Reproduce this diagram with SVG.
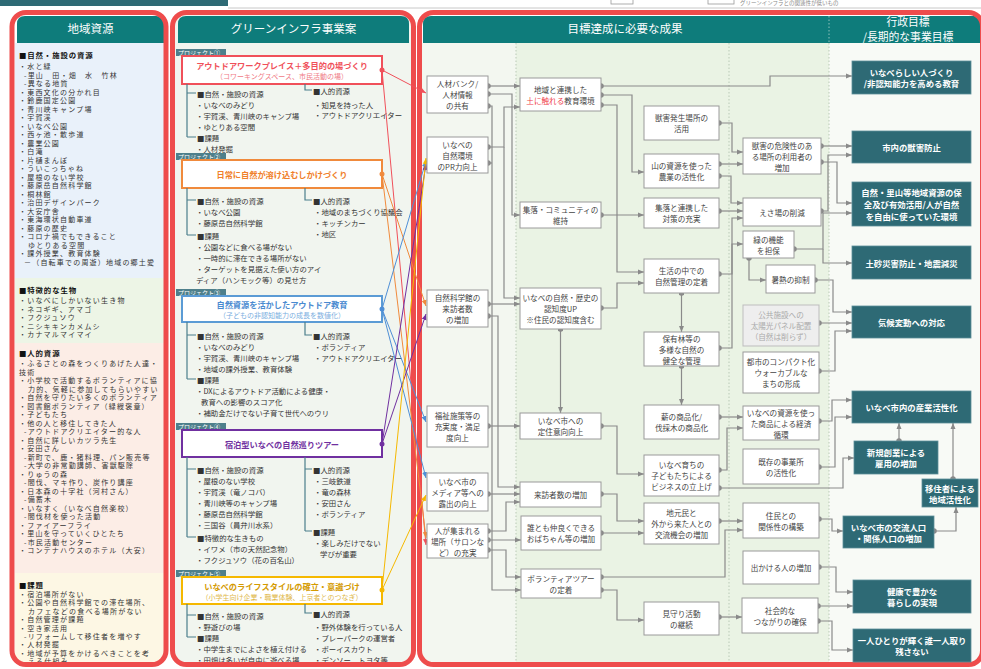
<svg xmlns="http://www.w3.org/2000/svg" width="981" height="669" viewBox="0 0 981 669">
<style>
text{font-family:"Noto Sans CJK JP","Noto Sans",sans-serif}
.frame{fill:none;stroke:#EE4C4C;stroke-width:5}
.hdr{fill:#0E7C7B}
.ht{font-size:11.5px;fill:#fff;text-anchor:middle;dominant-baseline:central}
.ht2{font-size:10.8px;fill:#fff;text-anchor:middle;dominant-baseline:central}
.lt{font-size:7px;letter-spacing:1.2px;fill:#333;dominant-baseline:central}
.lt .h{font-size:7.4px;letter-spacing:0.9px;fill:#111;font-weight:bold}
.mt{font-size:7.4px;fill:#333;dominant-baseline:central}
.tree{fill:none;stroke:#4B7F8B;stroke-width:1.2}
.tag{fill:#4E7F8B}
.tagt{font-size:6px;fill:#fff;dominant-baseline:central}
.pbox{fill:#fff;stroke-width:2}
.pt{font-size:8.2px;font-weight:bold;text-anchor:middle;dominant-baseline:central}
.ps{font-size:7px;text-anchor:middle;dominant-baseline:central}
.node rect{fill:#fff;stroke:#9a9a9a;stroke-width:1}
.node text{font-size:7.6px;fill:#444;text-anchor:middle;dominant-baseline:central}
.gray rect{fill:#eeeeee;stroke:#bdbdbd}
.gray text{fill:#aaa}
.goal rect{fill:#2E6A75;stroke:#5d8f99;stroke-width:0.8}
.goal text{font-size:8.4px;fill:#fff;font-weight:bold;text-anchor:middle;dominant-baseline:central}
.c{fill:none;stroke:#8a8a8a;stroke-width:1.2;marker-end:url(#ar);marker-start:url(#dt)}
.cn{fill:none;stroke:#8a8a8a;stroke-width:1.2;marker-end:url(#ar)}
.cd{fill:none;stroke:#8a8a8a;stroke-width:1.2;marker-start:url(#dt)}
.pl{fill:none;stroke-width:1}
.div{stroke:#b9c9b6;stroke-width:1;stroke-dasharray:1.5 2}
</style>
<defs>
<marker id="ar" viewBox="0 0 6 6" refX="6" refY="3" markerWidth="6" markerHeight="6" markerUnits="userSpaceOnUse" orient="auto"><path d="M0,0.5 L6,3 L0,5.5z" fill="#8a8a8a"/></marker>
<marker id="dt" viewBox="0 0 6 6" refX="3" refY="3" markerWidth="5.5" markerHeight="5.5" markerUnits="userSpaceOnUse"><circle cx="3" cy="3" r="3" fill="#8a8a8a"/></marker>
<marker id="arR" viewBox="0 0 6 6" refX="6" refY="3" markerWidth="6" markerHeight="6" markerUnits="userSpaceOnUse" orient="auto"><path d="M0,0.5 L6,3 L0,5.5z" fill="#F0505A"/></marker>
<marker id="arO" viewBox="0 0 6 6" refX="6" refY="3" markerWidth="6" markerHeight="6" markerUnits="userSpaceOnUse" orient="auto"><path d="M0,0.5 L6,3 L0,5.5z" fill="#F08A3C"/></marker>
<marker id="arB" viewBox="0 0 6 6" refX="6" refY="3" markerWidth="6" markerHeight="6" markerUnits="userSpaceOnUse" orient="auto"><path d="M0,0.5 L6,3 L0,5.5z" fill="#4F8FD6"/></marker>
<marker id="arP" viewBox="0 0 6 6" refX="6" refY="3" markerWidth="6" markerHeight="6" markerUnits="userSpaceOnUse" orient="auto"><path d="M0,0.5 L6,3 L0,5.5z" fill="#7030A0"/></marker>
<marker id="arY" viewBox="0 0 6 6" refX="6" refY="3" markerWidth="6" markerHeight="6" markerUnits="userSpaceOnUse" orient="auto"><path d="M0,0.5 L6,3 L0,5.5z" fill="#F5B800"/></marker>
<clipPath id="clL"><rect x="12" y="12.5" width="154" height="652" rx="14"/></clipPath>
<clipPath id="clM"><rect x="172.5" y="12.5" width="241" height="652" rx="14"/></clipPath>
<clipPath id="clR"><rect x="419.5" y="12.5" width="563" height="652" rx="14"/></clipPath>
</defs>
<rect width="981" height="669" fill="#fff"/>
<!-- top strip -->
<rect x="0" y="0" width="228" height="6" fill="#2E6A75"/>
<line x1="228" y1="8" x2="981" y2="8" stroke="#c8c8c8" stroke-width="1"/>
<rect x="611" y="-3" width="22" height="7" fill="#fff" stroke="#999" stroke-width="0.8"/>
<rect x="708" y="-3" width="26" height="7" fill="#fff" stroke="#999" stroke-width="0.8"/>
<text x="740" y="4.5" style="font-size:5.5px;fill:#888">グリーンインフラとの関連性が低いもの</text>

<!-- LEFT PANEL -->
<g id="panel-resources">
<g clip-path="url(#clL)">
<rect x="12" y="12" width="156" height="656" fill="#fff"/>
<rect x="15" y="43" width="150" height="235" fill="#E9F1FA"/>
<rect x="15" y="278" width="150" height="65" fill="#EDF5E6"/>
<rect x="15" y="343" width="150" height="230" fill="#FCEDE6"/>
<rect x="15" y="573" width="150" height="95" fill="#FDF7E4"/>
</g>
<path class="hdr" d="M17,43 V24 Q17,16 25,16 H156 Q164,16 164,24 V43 Z"/>
<text class="ht" x="90.5" y="28">地域資源</text>
<text class="lt" id="res-nature"><tspan class="h" x="19" y="54">■自然・施設の資源</tspan><tspan x="19" y="66">・水と緑</tspan><tspan x="24" y="74.5">-里山　田・畑　水　竹林</tspan><tspan x="24" y="83">-異なる地質</tspan><tspan x="19" y="91.5">・東西文化の分かれ目</tspan><tspan x="19" y="100">・鈴鹿国定公園</tspan><tspan x="19" y="108.5">・青川峡キャンプ場</tspan><tspan x="19" y="117">・宇賀渓</tspan><tspan x="19" y="125.5">・いなべ公園</tspan><tspan x="19" y="134">・西ヶ池・散歩道</tspan><tspan x="19" y="142.5">・農業公園</tspan><tspan x="19" y="151">・白滝</tspan><tspan x="19" y="159.5">・片樋まんぼ</tspan><tspan x="19" y="168">・ういこっちゃね</tspan><tspan x="19" y="176.5">・屋根のない学校</tspan><tspan x="19" y="185">・藤原岳自然科学館</tspan><tspan x="19" y="193.5">・桐林館</tspan><tspan x="19" y="202">・治田デザインパーク</tspan><tspan x="19" y="210.5">・大安庁舎</tspan><tspan x="19" y="219">・東海環状自動車道</tspan><tspan x="19" y="227.5">・藤原の歴史</tspan><tspan x="19" y="236">・コロナ禍でもできること</tspan><tspan x="28" y="244.5">ゆとりある空間</tspan><tspan x="19" y="253">・課外授業、教育体験</tspan><tspan x="24" y="261.5">－（自転車での周遊）地域の郷土愛</tspan></text>
<text class="lt" id="res-creatures"><tspan class="h" x="19" y="289">■特徴的な生物</tspan><tspan x="19" y="300">・いなべにしかいない生き物</tspan><tspan x="19" y="308.5">・ネコギギ、アマゴ</tspan><tspan x="19" y="317">・フクジュソウ</tspan><tspan x="19" y="325.5">・ニシキキンカメムシ</tspan><tspan x="19" y="334">・カナマルマイマイ</tspan></text>
<text class="lt" id="res-people"><tspan class="h" x="19" y="352">■人的資源</tspan><tspan x="19" y="363">・ふるさとの森をつくりあげた人達・</tspan><tspan x="19" y="371.5">技術</tspan><tspan x="19" y="380">・小学校で活動するボランティアに協</tspan><tspan x="28" y="388.5">力的、気軽に参加してもらいやすい</tspan><tspan x="19" y="397">・自然を守りたい多くのボランティア</tspan><tspan x="19" y="405.5">・図書館ボランティア（緑綬褒章）</tspan><tspan x="19" y="414">・子どもたち</tspan><tspan x="19" y="422.5">・他の人と移住してきた人</tspan><tspan x="24" y="431">-アウトドアクリエイター的な人</tspan><tspan x="19" y="439.5">・自然に詳しいカツラ先生</tspan><tspan x="19" y="448">・安田さん</tspan><tspan x="24" y="456.5">-新町で、鹿・猪料理、パン販売等</tspan><tspan x="24" y="465">-大学の非常勤講師、害獣駆除</tspan><tspan x="19" y="473.5">・りゅうの森</tspan><tspan x="24" y="482">-間伐、マキ作り、炭作り講座</tspan><tspan x="19" y="490.5">・日本森の十字社（河村さん）</tspan><tspan x="24" y="499">-備蓄木</tspan><tspan x="19" y="507.5">・いなすく（いなべ自然楽校）</tspan><tspan x="24" y="516">-間伐材を使った活動</tspan><tspan x="19" y="524.5">・ファイアーフライ</tspan><tspan x="19" y="533">・里山を守っていくひとたち</tspan><tspan x="24" y="541.5">-市民活動センター</tspan><tspan x="19" y="550">・コンテナハウスのホテル（大安）</tspan></text>
<text class="lt" id="res-issues"><tspan class="h" x="19" y="584">■課題</tspan><tspan x="19" y="594">・宿泊場所がない</tspan><tspan x="19" y="602.4">・公園や自然科学館での滞在場所、</tspan><tspan x="28" y="610.8">カフェなどの食べる場所がない</tspan><tspan x="19" y="619.2">・自然管理が課題</tspan><tspan x="19" y="627.6">・空き家活用</tspan><tspan x="24" y="636">-リフォームして移住者を増やす</tspan><tspan x="19" y="644.4">・人材発掘</tspan><tspan x="19" y="652.8">・地域が予算をかけるべきことを考</tspan><tspan x="28" y="661.2">える仕組み</tspan></text>
<rect class="frame" x="12" y="12.5" width="154" height="652" rx="14"/>
</g>

<!-- MIDDLE PANEL -->
<g id="panel-projects">
<g clip-path="url(#clM)"><rect x="172" y="12" width="242" height="656" fill="#F1F5EF"/></g>
<path class="hdr" d="M178,43 V24 Q178,16 186,16 H401 Q409,16 409,24 V43 Z"/>
<text class="ht" x="293.5" y="28">グリーンインフラ事業案</text>

<g id="project1">
<rect class="tag" x="176" y="49" width="50" height="7"/><text class="tagt" x="178" y="52.5">プロジェクト①</text>
<rect class="pbox" x="182" y="56" width="200" height="28" stroke="#F0505A"/>
<text class="pt" x="282" y="65" fill="#F0505A">アウトドアワークプレイス＋多目的の場づくり</text>
<text class="ps" x="282" y="76" fill="#F07A85">（コワーキングスペース、市民活動の場）</text>
<circle cx="382" cy="70" r="2.5" fill="#F0505A"/>
<path class="tree" d="M187,84 V137 M187,93 H196 M187,137 H196 M305,84 V90 H312"/>
<text class="mt" x="197" y="93">■自然・施設の資源</text>
<text class="mt" x="196" y="104">・いなべのみどり</text>
<text class="mt" x="196" y="115">・宇賀渓、青川峡のキャンプ場</text>
<text class="mt" x="196" y="126">・ゆとりある空間</text>
<text class="mt" x="197" y="137">■課題</text>
<text class="mt" x="196" y="148">・人材発掘</text>
<text class="mt" x="313" y="90">■人的資源</text>
<text class="mt" x="314" y="104">・知見を持った人</text>
<text class="mt" x="314" y="114.5">・アウトドアクリエイター</text>
</g>

<g id="project2">
<rect class="tag" x="176" y="153" width="50" height="7"/><text class="tagt" x="178" y="156.5">プロジェクト②</text>
<rect class="pbox" x="182" y="160" width="200" height="28" stroke="#F08A3C"/>
<text class="pt" x="282" y="174" fill="#F0802A">日常に自然が溶け込むしかけづくり</text>
<circle cx="382" cy="174" r="2.5" fill="#F08A3C"/>
<path class="tree" d="M187,188 V235 M187,200 H196 M187,235 H196 M305,188 V200 H312"/>
<text class="mt" x="197" y="200">■自然・施設の資源</text>
<text class="mt" x="196" y="211">・いなべ公園</text>
<text class="mt" x="196" y="222">・藤原岳自然科学館</text>
<text class="mt" x="197" y="235">■課題</text>
<text class="mt" x="196" y="246">・公園などに食べる場がない</text>
<text class="mt" x="196" y="257">・一時的に滞在できる場所がない</text>
<text class="mt" x="196" y="268">・ターゲットを見据えた使い方のアイ</text>
<text class="mt" x="196" y="279">ディア（ハンモック等）の見せ方</text>
<text class="mt" x="313" y="200">■人的資源</text>
<text class="mt" x="314" y="211">・地域のまちづくり協議会</text>
<text class="mt" x="314" y="222">・キッチンカー</text>
<text class="mt" x="314" y="233">・地区</text>
</g>

<g id="project3">
<rect class="tag" x="176" y="289" width="50" height="7"/><text class="tagt" x="178" y="292.5">プロジェクト③</text>
<rect class="pbox" x="182" y="296" width="200" height="26" stroke="#5B9BD5"/>
<text class="pt" x="282" y="303.5" fill="#4A8AD0">自然資源を活かしたアウトドア教育</text>
<text class="ps" x="282" y="315" fill="#7AAEE0">（子どもの非認知能力の成長を数値化）</text>
<circle cx="382" cy="309" r="2.5" fill="#4F8FD6"/>
<path class="tree" d="M187,322 V379 M187,335 H196 M187,379 H196 M305,322 V335 H312"/>
<text class="mt" x="197" y="335">■自然・施設の資源</text>
<text class="mt" x="196" y="346">・いなべのみどり</text>
<text class="mt" x="196" y="357">・宇賀渓、青川峡のキャンプ場</text>
<text class="mt" x="196" y="368">・地域の課外授業、教育体験</text>
<text class="mt" x="197" y="379">■課題</text>
<text class="mt" x="196" y="390">・DXによるアウトドア活動による健康・</text>
<text class="mt" x="201" y="401">教育への影響のスコア化</text>
<text class="mt" x="196" y="412">・補助金だけでない子育て世代へのウリ</text>
<text class="mt" x="313" y="335">■人的資源</text>
<text class="mt" x="314" y="346">・ボランティア</text>
<text class="mt" x="314" y="357">・アウトドアクリエイター</text>
</g>

<g id="project4">
<rect class="tag" x="176" y="423" width="50" height="7"/><text class="tagt" x="178" y="426.5">プロジェクト④</text>
<rect class="pbox" x="182" y="430" width="200" height="27" stroke="#7030A0"/>
<text class="pt" x="282" y="444" fill="#7030A0">宿泊型いなべの自然巡りツアー</text>
<circle cx="382" cy="444" r="2.5" fill="#7030A0"/>
<path class="tree" d="M187,457 V537 M187,469 H196 M187,537 H196 M305,457 V531 M305,469 H312 M305,531 H312"/>
<text class="mt" x="197" y="469">■自然・施設の資源</text>
<text class="mt" x="196" y="480">・屋根のない学校</text>
<text class="mt" x="196" y="491">・宇賀渓（竜ノコバ）</text>
<text class="mt" x="196" y="502">・青川峡等のキャンプ場</text>
<text class="mt" x="196" y="513">・藤原岳自然科学館</text>
<text class="mt" x="196" y="524">・三国谷（員弁川水系）</text>
<text class="mt" x="197" y="537">■特徴的な生きもの</text>
<text class="mt" x="196" y="548">・イワメ（市の天然記念物）</text>
<text class="mt" x="196" y="559">・フクジュソウ（花の百名山）</text>
<text class="mt" x="313" y="469">■人的資源</text>
<text class="mt" x="314" y="480">・三岐鉄道</text>
<text class="mt" x="314" y="491">・竜の森林</text>
<text class="mt" x="314" y="502">・安田さん</text>
<text class="mt" x="314" y="513">・ボランティア</text>
<text class="mt" x="313" y="531">■課題</text>
<text class="mt" x="314" y="542">・楽しみだけでない</text>
<text class="mt" x="320" y="553">学びが重要</text>
</g>

<g id="project5">
<rect class="tag" x="176" y="570" width="50" height="7"/><text class="tagt" x="178" y="573.5">プロジェクト⑤</text>
<rect class="pbox" x="182" y="577" width="200" height="27" stroke="#F5B800"/>
<text class="pt" x="282" y="585.5" fill="#D49A00">いなべのライフスタイルの確立・意識づけ</text>
<text class="ps" x="282" y="597" fill="#E0B84A">（小学生向け企業・職業体験、上京者とのつなぎ）</text>
<circle cx="382" cy="590" r="2.5" fill="#F5B800"/>
<path class="tree" d="M187,604 V637 M187,615 H196 M187,637 H196 M305,604 V613 H312"/>
<text class="mt" x="197" y="615">■自然・施設の資源</text>
<text class="mt" x="196" y="626">・野遊びの場</text>
<text class="mt" x="197" y="637">■課題</text>
<text class="mt" x="196" y="648">・中学生までによさを植え付ける</text>
<text class="mt" x="196" y="659">・田畑は多いが自由に遊べる場</text>
<text class="mt" x="313" y="613">■人的資源</text>
<text class="mt" x="314" y="626">・野外体験を行っている人</text>
<text class="mt" x="314" y="637">・プレーパークの運営者</text>
<text class="mt" x="314" y="648">・ボーイスカウト</text>
<text class="mt" x="314" y="659">・デンソー、トヨタ等</text>
</g>
<rect class="frame" x="172.5" y="12.5" width="241" height="652" rx="14"/>
</g>

<!-- RIGHT PANEL background -->
<g id="panel-outcomes">
<g clip-path="url(#clR)">
<rect x="419" y="12" width="565" height="656" fill="#fff"/>
<rect x="421" y="43" width="95" height="625" fill="#F3F7F0"/>
<rect x="516" y="43" width="313" height="625" fill="#EAF3E4"/>
<rect x="829" y="43" width="155" height="625" fill="#F8FAF6"/>
</g>
<path class="hdr" d="M423,43 V24 Q423,16 431,16 H981 V43 Z"/>
<text class="ht" x="625" y="28">目標達成に必要な成果</text>
<text class="ht2" x="908" y="20.5">行政目標</text>
<text class="ht2" x="908" y="35.5">/長期的な事業目標</text>
<line x1="829" y1="16" x2="829" y2="43" stroke="#8fc0bd" stroke-width="1" stroke-dasharray="1.5 2"/>
<line class="div" x1="516" y1="43" x2="516" y2="663"/>
<line class="div" x1="729" y1="43" x2="729" y2="663"/>
<line class="div" x1="829" y1="43" x2="829" y2="663"/>
<rect class="frame" x="419.5" y="12.5" width="563" height="652" rx="14"/>
</g>

<!-- CONNECTORS -->
<g id="connectors">
<path class="pl" stroke="#F0505A" marker-end="url(#arR)" d="M382,70 L426,93"/>
<path class="pl" stroke="#F0505A" marker-end="url(#arR)" d="M382,70 L426,545"/>
<path class="pl" stroke="#F08A3C" marker-end="url(#arO)" d="M382,174 L426,306"/>
<path class="pl" stroke="#F08A3C" marker-end="url(#arO)" d="M382,174 L426,538"/>
<path class="pl" stroke="#4F8FD6" marker-end="url(#arB)" d="M382,309 L426,161"/>
<path class="pl" stroke="#4F8FD6" marker-end="url(#arB)" d="M382,309 L426,422"/>
<path class="pl" stroke="#4F8FD6" marker-end="url(#arB)" d="M382,309 L426,478"/>
<path class="pl" stroke="#7030A0" marker-end="url(#arP)" d="M382,444 L426,164"/>
<path class="pl" stroke="#7030A0" marker-end="url(#arP)" d="M382,444 L426,314"/>
<path class="pl" stroke="#F5B800" marker-end="url(#arY)" d="M382,590 L426,158"/>
<path class="pl" stroke="#F5B800" marker-end="url(#arY)" d="M382,590 L426,495"/>

<path class="c" d="M488,86 H520"/>
<path class="c" d="M488,94 H512 V215 H520"/>
<path class="c" d="M488,106 H492 V590 H521"/>
<path class="c" d="M488,147 H504 V107 H520"/>
<path class="cn" d="M504,147 V298 H520"/>
<path class="cd" d="M488,163 H492"/>
<path class="c" d="M488,304 H520"/>
<path class="c" d="M488,316 H498 V487 H520"/>
<path class="c" d="M488,426 H520"/>
<path class="c" d="M488,494 H520"/>
<path class="c" d="M488,531 H506 V502 H520"/>
<path class="c" d="M488,540 H521"/>
<path class="c" d="M488,550 H506 V577 H521"/>

<path class="c" d="M601,86 H770 V76 H852"/>
<path class="c" d="M601,95 H632 V172 H644"/>
<path class="c" d="M601,105 H617 V272 H644"/>
<path class="c" d="M601,215 H644"/>
<path class="c" d="M601,308 H617 V283 H644"/>
<path class="c" d="M560.5,329 V413"/>
<path class="c" d="M601,426 H617 V474 H644"/>
<path class="c" d="M601,494 H617 V521 H644"/>
<path class="c" d="M601,533 H644"/>
<path class="c" d="M601,577 H725 V530 H743"/>
<path class="c" d="M601,590 H617 V620 H644"/>

<path class="c" d="M719,123 H732 V152 H743"/>
<path class="c" d="M719,164 H743"/>
<path class="c" d="M719,176 H731 V203 H743"/>
<path class="c" d="M719,211 H743"/>
<path class="c" d="M719,274 H732 V218 H743"/>
<path class="c" d="M681.5,293 V332"/>
<path class="c" d="M719,348 H732 V244 H743"/>
<path class="c" d="M681.5,366 V405"/>
<path class="c" d="M719,417 H743"/>
<path class="c" d="M719,470 H727 V428 H743"/>
<path class="c" d="M719,488 H843 V458 H854"/>
<path class="c" d="M719,521 H743"/>
<path class="c" d="M719,617 H742"/>

<path class="c" d="M821,146 H852"/>
<path class="c" d="M821,162 H837 V203 H852"/>
<path class="c" d="M821,211 H828 V155 H852"/>
<path class="c" d="M794,249 H823 V213 H852"/>
<path class="cn" d="M823,249 V263 H852"/>
<path class="c" d="M749,258 V280 H766"/>
<path class="c" d="M815,280 H833 V312 H852"/>
<path class="c" d="M819,323 H852"/>
<path class="c" d="M819,371 H835 V331 H852"/>
<path class="c" d="M819,421 H832 V400 H852"/>
<path class="c" d="M819,467 H835 V417 H852"/>
<path class="c" d="M899,441 V423"/>
<path class="c" d="M953,479 V423"/>
<path class="c" d="M934,531 H956 V507"/>
<path class="c" d="M819,519 H832 V531 H843"/>
<path class="c" d="M819,567 H836 V592 H853"/>
<path class="c" d="M818,606 H853"/>
<path class="c" d="M818,621 H832 V650 H853"/>
</g>

<!-- NODES col A -->
<g id="A1" class="node"><rect x="427" y="76" width="61" height="37"/><text x="457.5" y="83.5">人材バンク/</text><text x="457.5" y="94.5">人材情報</text><text x="457.5" y="105.5">の共有</text></g>
<g id="A2" class="node"><rect x="427" y="137" width="61" height="36"/><text x="457.5" y="144">いなべの</text><text x="457.5" y="155">自然環境</text><text x="457.5" y="166">のPR力向上</text></g>
<g id="A3" class="node"><rect x="427" y="290" width="61" height="37"/><text x="457.5" y="297.5">自然科学館の</text><text x="457.5" y="308.5">来訪者数</text><text x="457.5" y="319.5">の増加</text></g>
<g id="A4" class="node"><rect x="427" y="406" width="61" height="41"/><text x="457.5" y="415.5">福祉施策等の</text><text x="457.5" y="426.5">充実度・満足</text><text x="457.5" y="437.5">度向上</text></g>
<g id="A5" class="node"><rect x="427" y="473" width="61" height="38"/><text x="457.5" y="481">いなべ市の</text><text x="457.5" y="492">メディア等への</text><text x="457.5" y="503">露出の向上</text></g>
<g id="A6" class="node"><rect x="427" y="524" width="61" height="34"/><text x="457.5" y="530">人が集まれる</text><text x="457.5" y="541">場所（サロンな</text><text x="457.5" y="552">ど）の充実</text></g>
<!-- col B -->
<g id="B1" class="node"><rect x="520" y="78" width="81" height="33"/><text x="560.5" y="89">地域と連携した</text><text x="560.5" y="100"><tspan fill="#F0404A">土に触れる</tspan>教育環境</text></g>
<g id="B2" class="node"><rect x="520" y="202" width="81" height="26"/><text x="560.5" y="209.5">集落・コミュニティの</text><text x="560.5" y="220.5">維持</text></g>
<g id="B3" class="node"><rect x="520" y="288" width="81" height="41"/><text x="560.5" y="297.5">いなべの自然・歴史の</text><text x="560.5" y="308.5">認知度UP</text><text x="560.5" y="319.5">※住民の認知度含む</text></g>
<g id="B4" class="node"><rect x="520" y="413" width="81" height="26"/><text x="560.5" y="420.5">いなべ市への</text><text x="560.5" y="431.5">定住意向向上</text></g>
<g id="B5" class="node"><rect x="520" y="482" width="81" height="25"/><text x="560.5" y="494.5">来訪者数の増加</text></g>
<g id="B6" class="node"><rect x="521" y="516" width="80" height="34"/><text x="561" y="527.5">誰とも仲良くできる</text><text x="561" y="538.5">おばちゃん等の増加</text></g>
<g id="B7" class="node"><rect x="521" y="569" width="80" height="29"/><text x="561" y="578">ボランティアツアー</text><text x="561" y="589">の定着</text></g>
<!-- col C -->
<g id="C1" class="node"><rect x="644" y="106" width="75" height="34"/><text x="681.5" y="117.5">獣害発生場所の</text><text x="681.5" y="128.5">活用</text></g>
<g id="C2" class="node"><rect x="644" y="154" width="75" height="34"/><text x="681.5" y="165.5">山の資源を使った</text><text x="681.5" y="176.5">農業の活性化</text></g>
<g id="C3" class="node"><rect x="644" y="198" width="75" height="30"/><text x="681.5" y="207.5">集落と連携した</text><text x="681.5" y="218.5">対策の充実</text></g>
<g id="C4" class="node"><rect x="644" y="259" width="75" height="34"/><text x="681.5" y="270.5">生活の中での</text><text x="681.5" y="281.5">自然管理の定着</text></g>
<g id="C5" class="node"><rect x="644" y="332" width="75" height="34"/><text x="681.5" y="338">保有林等の</text><text x="681.5" y="349">多様な自然の</text><text x="681.5" y="360">健全な管理</text></g>
<g id="C6" class="node"><rect x="644" y="405" width="75" height="34"/><text x="681.5" y="416.5">薪の商品化/</text><text x="681.5" y="427.5">伐採木の商品化</text></g>
<g id="C7" class="node"><rect x="644" y="455" width="75" height="41"/><text x="681.5" y="464.5">いなべ育ちの</text><text x="681.5" y="475.5">子どもたちによる</text><text x="681.5" y="486.5">ビジネスの立上げ</text></g>
<g id="C8" class="node"><rect x="644" y="503" width="75" height="41"/><text x="681.5" y="512.5">地元民と</text><text x="681.5" y="523.5">外から来た人との</text><text x="681.5" y="534.5">交流機会の増加</text></g>
<g id="C9" class="node"><rect x="644" y="602" width="75" height="33"/><text x="681.5" y="613">見守り活動</text><text x="681.5" y="624">の継続</text></g>
<!-- col D -->
<g id="D1" class="node"><rect x="743" y="138" width="78" height="36"/><text x="782" y="145">獣害の危険性のあ</text><text x="782" y="156">る場所の利用者の</text><text x="782" y="167">増加</text></g>
<g id="D2" class="node"><rect x="743" y="198" width="78" height="28"/><text x="782" y="212">えさ場の削減</text></g>
<g id="D3" class="node"><rect x="743" y="231" width="51" height="27"/><text x="768.5" y="239">緑の機能</text><text x="768.5" y="250">を担保</text></g>
<g id="D4" class="node"><rect x="766" y="265" width="49" height="28"/><text x="790.5" y="279">暑熱の抑制</text></g>
<g id="D5" class="node gray"><rect x="743" y="305" width="76" height="41"/><text x="781" y="314.5">公共施設への</text><text x="781" y="325.5">太陽光パネル配置</text><text x="781" y="336.5">（自然は削らず）</text></g>
<g id="D6" class="node"><rect x="743" y="352" width="76" height="41"/><text x="781" y="361.5">都市のコンパクト化</text><text x="781" y="372.5">ウォーカブルな</text><text x="781" y="383.5">まちの形成</text></g>
<g id="D7" class="node"><rect x="743" y="406" width="76" height="34"/><text x="781" y="412">いなべの資源を使っ</text><text x="781" y="423">た商品による経済</text><text x="781" y="434">循環</text></g>
<g id="D8" class="node"><rect x="743" y="449" width="76" height="35"/><text x="781" y="461">既存の事業所</text><text x="781" y="472">の活性化</text></g>
<g id="D9" class="node"><rect x="743" y="503" width="76" height="35"/><text x="781" y="515">住民との</text><text x="781" y="526">関係性の構築</text></g>
<g id="D10" class="node"><rect x="743" y="551" width="76" height="33"/><text x="781" y="567.5">出かける人の増加</text></g>
<g id="D11" class="node"><rect x="742" y="598" width="76" height="35"/><text x="780" y="610">社会的な</text><text x="780" y="621">つながりの確保</text></g>
<!-- goals -->
<g id="G1" class="goal"><rect x="852" y="61" width="119" height="33"/><text x="911.5" y="72">いなべらしい人づくり</text><text x="911.5" y="83">/非認知能力を高める教育</text></g>
<g id="G2" class="goal"><rect x="852" y="131" width="119" height="32"/><text x="911.5" y="147">市内の獣害防止</text></g>
<g id="G3" class="goal"><rect x="852" y="182" width="119" height="44"/><text x="911.5" y="192">自然・里山等地域資源の保</text><text x="911.5" y="204">全及び有効活用/人が自然</text><text x="911.5" y="216">を自由に使っていた環境</text></g>
<g id="G4" class="goal"><rect x="852" y="246" width="119" height="33"/><text x="911.5" y="262.5">土砂災害防止・地震減災</text></g>
<g id="G5" class="goal"><rect x="852" y="306" width="119" height="32"/><text x="911.5" y="322">気候変動への対応</text></g>
<g id="G6" class="goal"><rect x="852" y="391" width="119" height="32"/><text x="911.5" y="407">いなべ市内の産業活性化</text></g>
<g id="G7" class="goal"><rect x="854" y="441" width="84" height="33"/><text x="896" y="452">新規創業による</text><text x="896" y="463">雇用の増加</text></g>
<g id="G8" class="goal"><rect x="922" y="479" width="56" height="28"/><text x="950" y="487.5">移住者による</text><text x="950" y="498.5">地域活性化</text></g>
<g id="G9" class="goal"><rect x="843" y="516" width="91" height="32"/><text x="888.5" y="526.5">いなべ市の交流人口</text><text x="888.5" y="537.5">・関係人口の増加</text></g>
<g id="G10" class="goal"><rect x="853" y="580" width="118" height="33"/><text x="912" y="591">健康で豊かな</text><text x="912" y="602">暮らしの実現</text></g>
<g id="G11" class="goal"><rect x="853" y="629" width="118" height="33"/><text x="912" y="640">一人ひとりが輝く誰一人取り</text><text x="912" y="651">残さない</text></g>
</svg>
